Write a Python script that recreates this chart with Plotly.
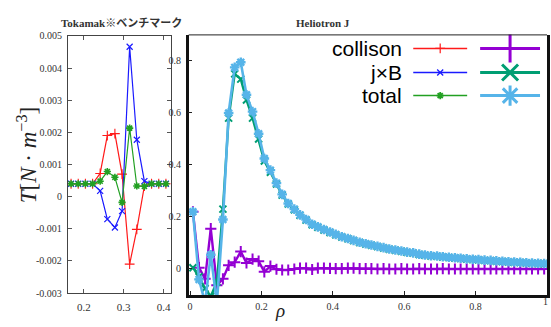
import plotly.graph_objects as go

# ---------------- data ----------------
# Left panel: Tokamak benchmark
tok_rho = [0.168, 0.186, 0.204, 0.222, 0.241, 0.259, 0.278, 0.296, 0.315, 0.333, 0.352, 0.370, 0.388, 0.406]
tok_collision = [0.0004, 0.0004, 0.0004, 0.0004, 0.00072, 0.0019, 0.00196, 0.0007, -0.0021, -0.00102, 0.00033, 0.0004, 0.0004, 0.0004]
tok_jxb = [0.0004, 0.0004, 0.0004, 0.0004, 0.00018, -0.0007, -0.00096, -0.00045, 0.00466, 0.00177, 0.00048, 0.0004, 0.0004, 0.0004]
tok_total = [0.0004, 0.0004, 0.0004, 0.0004, 0.00048, 0.00078, 0.0006, -0.00018, 0.00213, 0.00033, 0.00032, 0.0004, 0.0004, 0.0004]

# Right panel: Heliotron J
hj_rho = [0.008, 0.025, 0.042, 0.058, 0.075, 0.092, 0.108, 0.125, 0.142, 0.158,
          0.175, 0.192, 0.208, 0.225, 0.242, 0.258, 0.275, 0.292, 0.308, 0.325,
          0.342, 0.358, 0.375, 0.392, 0.408, 0.425, 0.442, 0.458, 0.475, 0.492,
          0.508, 0.525, 0.542, 0.558, 0.575, 0.592, 0.608, 0.625, 0.642, 0.658,
          0.675, 0.692, 0.708, 0.725, 0.742, 0.758, 0.775, 0.792, 0.808, 0.825,
          0.842, 0.858, 0.875, 0.892, 0.908, 0.925, 0.942, 0.958, 0.975, 0.992]
hj_collision = [0.22, 0.005, -0.038, 0.155, -0.063, -0.038, 0.014, 0.026, 0.067, 0.023,
                0.038, 0.03, -0.011, 0.011, -0.001, -0.004, -0.004, 0.0, 0.003, 0.003,
                -0.002, 0.003, 0.003, 0.002, 0.001, 0.001, 0.003, 0.003, 0.001, 0.001,
                0.001, 0.0, 0.001, 0.0, 0.0, 0.001, 0.0, 0.0, 0.001, 0.0,
                0.0, 0.0, 0.001, 0.0, 0.0, 0.0, 0.0, 0.0, 0.0, 0.0,
                0.0, 0.0, 0.0, 0.0, 0.0, 0.0, 0.0, 0.0, 0.0, 0.0]
hj_jxb = [0.005, -0.03, -0.075, -0.105, -0.05, 0.23, 0.58, 0.75, 0.73, 0.65,
          0.58, 0.50, 0.415, 0.372, 0.327, 0.284, 0.25, 0.228, 0.206, 0.188,
          0.17, 0.16, 0.15, 0.14, 0.131, 0.123, 0.116, 0.109, 0.102, 0.096,
          0.091, 0.086, 0.081, 0.076, 0.072, 0.068, 0.064, 0.061, 0.056, 0.053,
          0.05, 0.049, 0.046, 0.044, 0.042, 0.04, 0.038, 0.036, 0.035, 0.033,
          0.032, 0.03, 0.029, 0.027, 0.026, 0.025, 0.023, 0.022, 0.021, 0.02]
hj_total = [0.22, -0.04, -0.13, 0.055, -0.13, 0.19, 0.60, 0.775, 0.795, 0.67,
            0.605, 0.52, 0.425, 0.38, 0.33, 0.287, 0.252, 0.23, 0.208, 0.19,
            0.172, 0.162, 0.152, 0.142, 0.133, 0.124, 0.117, 0.11, 0.103, 0.097,
            0.092, 0.087, 0.082, 0.077, 0.073, 0.069, 0.065, 0.062, 0.057, 0.054,
            0.051, 0.05, 0.047, 0.045, 0.043, 0.041, 0.039, 0.037, 0.036, 0.034,
            0.033, 0.031, 0.03, 0.028, 0.027, 0.026, 0.024, 0.023, 0.022, 0.021]

tok_xticks = [0.2, 0.3, 0.4]
tok_xticklabels = ["0.2", "0.3", "0.4"]
tok_yticks = [0.005, 0.004, 0.003, 0.002, 0.001, 0, -0.001, -0.002, -0.003]
tok_yticklabels = ["0.005", "0.004", "0.003", "0.002", "0.001", "0", "-0.001", "-0.002", "-0.003"]
hj_xticks = [0, 0.2, 0.4, 0.6, 0.8]
hj_xticklabels = ["0", "0.2", "0.4", "0.6", "0.8"]
hj_last_xlabel = "1"
hj_yticks = [0, 0.2, 0.4, 0.6, 0.8]
hj_yticklabels = ["0", "0.2", "0.4", "0.6", "0.8"]
series_names = ["collison", "j×B", "total"]

# ---------------- styling ----------------
W, H = 551, 327
def px(x):
    return x / W
def py(y):
    return 1 - y / H

RED, BLUE, GREEN = "#ff1a1a", "#1a1aff", "#22a022"
PURPLE, TEAL, LBLUE = "#9400d3", "#009e73", "#56b4e9"
SERIF = "Liberation Serif, DejaVu Serif, serif"

fig = go.Figure()

def add(x, y, color, symbol, size, lw, mlw, xa, ya, name):
    fig.add_trace(go.Scatter(
        x=x, y=y, mode="lines+markers", name=name, showlegend=False,
        xaxis=xa, yaxis=ya,
        line=dict(color=color, width=lw),
        marker=dict(symbol=symbol, size=size, color=color,
                    line=dict(color=color, width=mlw)),
    ))

# left panel
add(tok_rho, tok_collision, RED, "cross-thin-open", 7, 1.2, 1.1, "x", "y", series_names[0])
add(tok_rho, tok_jxb, BLUE, "x-thin-open", 6, 1.2, 1.2, "x", "y", series_names[1])
add(tok_rho, tok_total, GREEN, "asterisk-open", 6, 1.2, 1.6, "x", "y", series_names[2])

# right panel
add(hj_rho, hj_collision, PURPLE, "cross-thin-open", 8, 2.4, 2, "x2", "y2", series_names[0])
add(hj_rho, hj_jxb, TEAL, "x-thin-open", 7, 2.4, 2, "x2", "y2", series_names[1])
add(hj_rho, hj_total, LBLUE, "asterisk-open", 8, 2.6, 2.4, "x2", "y2", series_names[2])

# manual two-column legend: line sample + one marker in the middle
leg_rows = [44, 69, 93]
col1 = (413, 467)
col2 = (480, 540)
leg_small = [(RED, "cross-thin-open", 7, 1.2), (BLUE, "x-thin-open", 6, 1.3), (GREEN, "asterisk-open", 6, 1.8)]
leg_big = [(PURPLE, "cross-thin-open", 20, 3), (TEAL, "x-thin-open", 16, 3), (LBLUE, "asterisk-open", 17, 3)]
for r, s1, s2 in zip(leg_rows, leg_small, leg_big):
    for (c0, c1), (color, sym, sz, lw), linew in ((col1, s1, 1.5), (col2, s2, 3)):
        fig.add_trace(go.Scatter(
            x=[c0, c1], y=[r, r], mode="lines", showlegend=False, hoverinfo="skip",
            xaxis="x3", yaxis="y3", line=dict(color=color, width=linew)))
        fig.add_trace(go.Scatter(
            x=[(c0 + c1) / 2], y=[r], mode="markers", showlegend=False, hoverinfo="skip",
            xaxis="x3", yaxis="y3",
            marker=dict(symbol=sym, size=sz, color=color, line=dict(color=color, width=lw))))

tickfont = dict(family=SERIF, size=10, color="#333")
fig.update_layout(
    width=W, height=H,
    margin=dict(l=0, r=0, t=0, b=0),
    paper_bgcolor="white", plot_bgcolor="rgba(0,0,0,0)",
    showlegend=False,
    xaxis=dict(domain=[px(67), px(170)], range=[0.16, 0.418], anchor="y",
               tickvals=tok_xticks, ticktext=tok_xticklabels,
               ticks="inside", ticklen=4, tickcolor="#555",
               showline=True, linecolor="#444", linewidth=1, mirror="ticks",
               showgrid=False, zeroline=False,
               tickfont=dict(family=SERIF, size=11, color="#333"),
               ticklabelstandoff=4),
    yaxis=dict(domain=[py(298), py(31)], range=[-0.003, 0.005], anchor="x",
               tickvals=tok_yticks, ticktext=tok_yticklabels,
               ticks="inside", ticklen=4, tickcolor="#555",
               showline=True, linecolor="#444", linewidth=1, mirror="ticks",
               showgrid=False, zeroline=False, tickfont=tickfont,
               ticklabelstandoff=3),
    xaxis2=dict(domain=[px(188), px(547)], range=[-0.004, 1.0], anchor="y2",
                tickvals=hj_xticks, ticktext=hj_xticklabels,
                ticks="inside", ticklen=4, tickcolor="#222",
                showline=True, linecolor="#111", linewidth=2.5, mirror=False,
                showgrid=False, zeroline=False, tickfont=tickfont,
                ticklabelstandoff=0),
    yaxis2=dict(domain=[py(300), py(30)], range=[-0.1, 0.9], anchor="x2",
                tickvals=hj_yticks, ticktext=hj_yticklabels,
                ticks="inside", ticklen=4, tickcolor="#222",
                showline=True, linecolor="#111", linewidth=2.5, mirror=True,
                showgrid=False, zeroline=False, tickfont=tickfont,
                ticklabelstandoff=3),
    xaxis3=dict(domain=[0, 1], range=[0, W], visible=False, anchor="y3", fixedrange=True),
    yaxis3=dict(domain=[0, 1], range=[H, 0], visible=False, anchor="x3", fixedrange=True),
    shapes=[dict(type="line", xref="paper", yref="paper",
                 x0=px(188), x1=px(547), y0=py(30), y1=py(30),
                 line=dict(color="#222", width=1))],
)

ann = [
    dict(text="<b>Tokamak※ベンチマーク</b>", x=px(121), y=py(18),
         font=dict(family="Liberation Serif, Noto Sans CJK JP", size=11, color="#333")),
    dict(text="<b>Heliotron J</b>", x=px(323), y=py(18),
         font=dict(family=SERIF, size=11, color="#333")),
    dict(text="<i>T</i>[<i>N</i> · <i>m</i><sup>−3</sup>]", x=px(26), y=py(155), textangle=-90,
         font=dict(family=SERIF, size=23, color="#222")),
    dict(text="<i>ρ</i>", x=px(280), y=py(316),
         font=dict(family=SERIF, size=19, color="#222")),
    dict(text=hj_last_xlabel, x=px(550), y=py(307), xanchor="right",
         font=dict(family=SERIF, size=10, color="#333")),
]
for name, r in zip(series_names, leg_rows):
    ann.append(dict(text=name, x=px(404), y=py(r), xanchor="right",
                    font=dict(family="Liberation Sans, Arial, sans-serif", size=21, color="black")))
for a in ann:
    a.setdefault("xanchor", "center")
    a.update(xref="paper", yref="paper", yanchor="middle", showarrow=False)
fig.update_layout(annotations=ann)

fig.write_html("out.html", config={"responsive": False, "displayModeBar": False},
               post_script="document.body.style.margin='0';document.body.style.overflow='hidden';")
